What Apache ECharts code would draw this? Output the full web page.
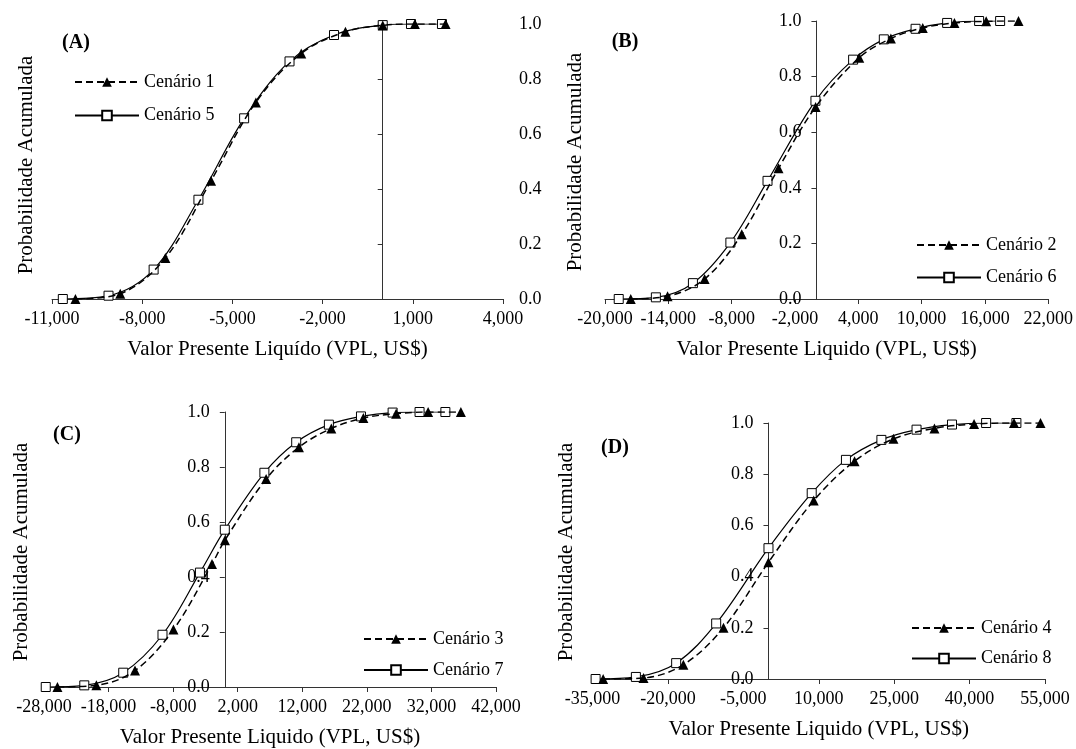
<!DOCTYPE html>
<html>
<head>
<meta charset="utf-8">
<title>Probabilidade acumulada do VPL</title>
<script src="https://cdn.jsdelivr.net/npm/echarts@6/dist/echarts.min.js"></script>
<style>
  html, body { margin: 0; padding: 0; background: #fff; }
  #main { width: 1076px; height: 749px; }
</style>
</head>
<body>
<div id="main"></div>
<script>
// valores: [VPL (US$), probabilidade acumulada]
const cenario1 = [[-10220, 0], [-8730, 0.019], [-7230, 0.149], [-5710, 0.43], [-4220, 0.715], [-2710, 0.893], [-1240, 0.972], [0, 0.995], [1070, 1.0], [2090, 1.0]]
const cenario5 = [[-10640, 0], [-9120, 0.012], [-7620, 0.107], [-6130, 0.361], [-4610, 0.657], [-3100, 0.864], [-1620, 0.96], [0, 0.996], [940, 1.0], [1970, 1.0]]

const cenario2 = [[-17560, 0], [-14070, 0.01], [-10560, 0.072], [-7040, 0.233], [-3560, 0.47], [-40, 0.691], [4090, 0.868], [7090, 0.937], [10110, 0.975], [13110, 0.993], [16120, 0.999], [19180, 1.0]]
const cenario6 = [[-18700, 0], [-15180, 0.006], [-11670, 0.057], [-8120, 0.203], [-4600, 0.425], [-60, 0.713], [3510, 0.861], [6420, 0.934], [9430, 0.972], [12420, 0.993], [15450, 1.0], [17440, 1.0]]

const cenario3 = [[-25920, 0], [-19890, 0.006], [-13910, 0.06], [-7950, 0.209], [-1980, 0.447], [20, 0.534], [6400, 0.756], [11480, 0.872], [16500, 0.94], [21460, 0.978], [26530, 0.994], [31490, 1.0], [36560, 1.0]]
const cenario7 = [[-27730, 0], [-21760, 0.006], [-15730, 0.052], [-9650, 0.19], [-3850, 0.416], [0, 0.572], [6130, 0.779], [11060, 0.89], [16120, 0.954], [21090, 0.984], [25990, 0.998], [30160, 1.0], [34160, 1.0]]

const cenario4 = [[-32880, 0], [-24860, 0.004], [-16920, 0.056], [-8950, 0.2], [0, 0.456], [9000, 0.697], [17120, 0.851], [24860, 0.938], [33010, 0.979], [40890, 0.996], [48830, 1.0], [54110, 1.0]]
const cenario8 = [[-34380, 0], [-26370, 0.008], [-18360, 0.062], [-10400, 0.217], [0, 0.511], [8600, 0.726], [15410, 0.856], [22460, 0.934], [29450, 0.974], [36500, 0.994], [43290, 1.0], [49310, 1.0]]

// marcas dos eixos
const ticksA = [-11000, -8000, -5000, -2000, 1000, 4000]
const ticksB = [-20000, -14000, -8000, -2000, 4000, 10000, 16000, 22000]
const ticksC = [-28000, -18000, -8000, 2000, 12000, 22000, 32000, 42000]
const ticksD = [-35000, -20000, -5000, 10000, 25000, 40000, 55000]
const probTicks = [0, 0.2, 0.4, 0.6, 0.8, 1.0]

const FONT = '"Liberation Serif", "Times New Roman", serif'
const AXIS_COLOR = '#333'

const grids = [
  { left: 52, top: 24, width: 451, height: 275 },
  { left: 605, top: 21, width: 444, height: 278 },
  { left: 44, top: 412, width: 452, height: 278 },
  { left: 592.5, top: 423, width: 452.5, height: 256 }
]

const fmtMil = v => (v < 0 ? '-' : '') + String(Math.abs(v)).replace(/\B(?=(\d{3})+(?!\d))/g, ',')

// deslocamento para o eixo Y cruzar o X no zero
const zeroOffset = (grid, ticks) => {
  const min = ticks[0], max = ticks[ticks.length - 1]
  return -((0 - min) / (max - min)) * grids[grid].width
}

const xAxisOf = (grid, ticks, name) => ({
  type: 'value',
  gridIndex: grid,
  min: ticks[0],
  max: ticks[ticks.length - 1],
  name: name,
  nameLocation: 'middle',
  nameGap: 40,
  nameTextStyle: { fontFamily: FONT, fontSize: 21, color: '#000' },
  axisLine: { onZero: true, lineStyle: { color: AXIS_COLOR, width: 1 } },
  axisTick: { show: true, length: 5, customValues: ticks, lineStyle: { color: AXIS_COLOR } },
  axisLabel: { customValues: ticks, margin: 11, fontFamily: FONT, fontSize: 18, color: '#000', formatter: fmtMil },
  splitLine: { show: false }
})

const yAxisOf = (grid, ticks, showLabel) => ({
  type: 'value',
  gridIndex: grid,
  position: 'left',
  offset: zeroOffset(grid, ticks),
  min: 0,
  max: 1,
  axisLine: { show: true, onZero: false, lineStyle: { color: AXIS_COLOR, width: 1 } },
  axisTick: { show: true, length: 5, customValues: probTicks, lineStyle: { color: AXIS_COLOR } },
  axisLabel: { show: showLabel, customValues: probTicks, margin: 15, fontFamily: FONT, fontSize: 18, color: '#000', formatter: v => v.toFixed(1) },
  splitLine: { show: false }
})

// painel A tem os rótulos do eixo Y do lado direito
const yLabelsRightA = {
  type: 'value',
  gridIndex: 0,
  position: 'right',
  min: 0,
  max: 1,
  axisLine: { show: false, onZero: false },
  axisTick: { show: false },
  axisLabel: { customValues: probTicks, margin: 16, fontFamily: FONT, fontSize: 18, color: '#000', formatter: v => v.toFixed(1) },
  splitLine: { show: false }
}

const comTriangulo = (name, data, xi, yi) => ({
  name: name,
  type: 'line',
  data: data,
  xAxisIndex: xi,
  yAxisIndex: yi,
  smooth: 0.35,
  symbol: 'triangle',
  symbolSize: 10,
  showAllSymbol: true,
  lineStyle: { color: '#000', width: 1.5, type: [7, 4] },
  itemStyle: { color: '#000' },
  z: 3
})

const comQuadrado = (name, data, xi, yi) => ({
  name: name,
  type: 'line',
  data: data,
  xAxisIndex: xi,
  yAxisIndex: yi,
  smooth: 0.35,
  symbol: 'rect',
  symbolSize: 9,
  showAllSymbol: true,
  lineStyle: { color: '#000', width: 1.2, type: 'solid' },
  itemStyle: { color: '#fff', borderColor: '#000', borderWidth: 1 },
  z: 2
})

const legendaEm = (names, left, top, gap) => ({
  data: names,
  left: left,
  top: top,
  orient: 'vertical',
  itemWidth: 64,
  itemHeight: 12,
  itemGap: gap,
  selectedMode: false,
  textStyle: { fontFamily: FONT, fontSize: 18, color: '#000' }
})

const texto = (txt, x, y, size, bold, rot) => ({
  type: 'text',
  x: x,
  y: y,
  rotation: rot || 0,
  style: {
    text: txt,
    font: (bold ? 'bold ' : '') + size + 'px ' + FONT,
    fill: '#000',
    textAlign: 'center',
    textVerticalAlign: 'middle',
    align: 'center',
    verticalAlign: 'middle'
  }
})

const TITULO_Y = 'Probabilidade Acumulada'

const option = {
  animation: false,
  backgroundColor: '#fff',
  grid: grids,
  xAxis: [
    xAxisOf(0, ticksA, 'Valor Presente Liquído (VPL, US$)'),
    xAxisOf(1, ticksB, 'Valor Presente Liquido (VPL, US$)'),
    xAxisOf(2, ticksC, 'Valor Presente Liquido (VPL, US$)'),
    xAxisOf(3, ticksD, 'Valor Presente Liquido (VPL, US$)')
  ],
  yAxis: [
    yAxisOf(0, ticksA, false),
    yLabelsRightA,
    yAxisOf(1, ticksB, true),
    yAxisOf(2, ticksC, true),
    yAxisOf(3, ticksD, true)
  ],
  legend: [
    legendaEm(['Cenário 1', 'Cenário 5'], 69, 68, 15.5),
    legendaEm(['Cenário 2', 'Cenário 6'], 911, 231, 14.5),
    legendaEm(['Cenário 3', 'Cenário 7'], 358, 625, 13),
    legendaEm(['Cenário 4', 'Cenário 8'], 906, 614, 12.5)
  ],
  graphic: {
    elements: [
      texto('(A)', 76, 43, 20, true),
      texto('(B)', 625, 42, 20, true),
      texto('(C)', 67, 435, 20, true),
      texto('(D)', 615, 448, 20, true),
      texto(TITULO_Y, 26, 165, 21, false, Math.PI / 2),
      texto(TITULO_Y, 575, 162, 21, false, Math.PI / 2),
      texto(TITULO_Y, 21, 552, 21, false, Math.PI / 2),
      texto(TITULO_Y, 566, 552, 21, false, Math.PI / 2)
    ]
  },
  series: [
    comQuadrado('Cenário 5', cenario5, 0, 0),
    comTriangulo('Cenário 1', cenario1, 0, 0),
    comQuadrado('Cenário 6', cenario6, 1, 2),
    comTriangulo('Cenário 2', cenario2, 1, 2),
    comQuadrado('Cenário 7', cenario7, 2, 3),
    comTriangulo('Cenário 3', cenario3, 2, 3),
    comQuadrado('Cenário 8', cenario8, 3, 4),
    comTriangulo('Cenário 4', cenario4, 3, 4)
  ]
}

const chart = echarts.init(document.getElementById('main'))
chart.setOption(option)
</script>
</body>
</html>
